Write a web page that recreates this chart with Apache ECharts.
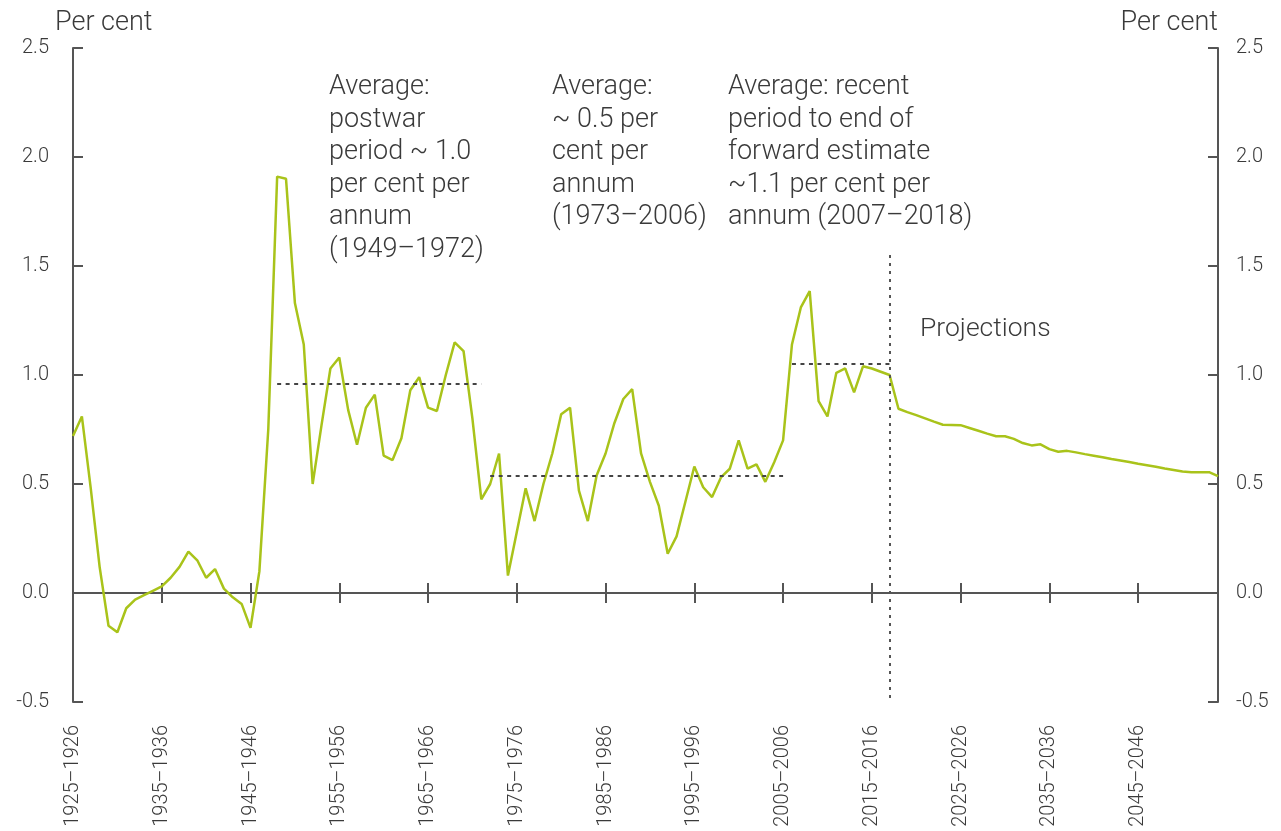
<!DOCTYPE html>
<html>
<head>
<meta charset="utf-8">
<script src="https://cdn.jsdelivr.net/npm/echarts@6/dist/echarts.min.js"></script>
<style>
  html, body { margin: 0; padding: 0; background: #fff; }
  #chart { width: 1281px; height: 831px; }
</style>
</head>
<body>
<div id="chart"></div>
<script>
// financial years 1925–1926 ... 2054–2055
const years = []
for (let y = 1925; y <= 2054; y++) years.push(y + '–' + (y + 1))

// annual growth, per cent
const growth = [
  0.72, 0.81, 0.48, 0.12, -0.15, -0.18, -0.07, -0.03, -0.01, 0.01,
  0.03, 0.07, 0.12, 0.19, 0.15, 0.07, 0.11, 0.02, -0.02, -0.05,
  -0.16, 0.10, 0.75, 1.91, 1.90, 1.33, 1.14, 0.50, 0.77, 1.03,
  1.08, 0.84, 0.68, 0.85, 0.91, 0.63, 0.61, 0.71, 0.93, 0.99,
  0.85, 0.835, 1.00, 1.15, 1.11, 0.80, 0.43, 0.50, 0.64, 0.08,
  0.28, 0.48, 0.33, 0.50, 0.64, 0.82, 0.85, 0.47, 0.33, 0.54,
  0.64, 0.78, 0.89, 0.935, 0.64, 0.51, 0.40, 0.18, 0.26, 0.42,
  0.58, 0.485, 0.44, 0.53, 0.57, 0.70, 0.57, 0.59, 0.51, 0.60,
  0.70, 1.14, 1.31, 1.385, 0.88, 0.81, 1.01, 1.03, 0.92, 1.04,
  1.03, 1.015, 1.00, 0.845, 0.83, 0.816, 0.801, 0.786, 0.772, 0.771,
  0.77, 0.757, 0.744, 0.731, 0.719, 0.719, 0.707, 0.688, 0.677, 0.682,
  0.66, 0.648, 0.652, 0.645, 0.637, 0.630, 0.623, 0.615, 0.608, 0.601,
  0.593, 0.586, 0.579, 0.571, 0.564, 0.557, 0.554, 0.554, 0.554, 0.536
]

// period averages (dashed lines)
const avgFrom = ['1948–1949', '1972–1973', '2006–2007']
const avgTo = ['1971–1972', '2005–2006', '2017–2018']
const avgValue = [0.96, 0.537, 1.053]

// projection divider
const projStart = '2017–2018'
const projTop = 1.55

const notes = [
  'Average:\npostwar\nperiod ~ 1.0\nper cent per\nannum\n(1949–1972)',
  'Average:\n~ 0.5 per\ncent per\nannum\n(1973–2006)',
  'Average: recent\nperiod to end of\nforward estimate\n~1.1 per cent per\nannum (2007–2018)',
  'Projections'
]

const FONT = 'Roboto, "Liberation Sans", sans-serif'
const AXIS = '#555'
const TEXT = '#3a3a3a'

const chart = echarts.init(document.getElementById('chart'))

const avgLines = avgValue.map((v, i) => [
  { coord: [avgFrom[i], v], lineStyle: { type: [4, 4.5], color: '#444', width: 2 } },
  { coord: [avgTo[i], v] }
])
avgLines.push([
  { coord: [projStart, projTop], lineStyle: { type: [3, 5], color: '#555', width: 2 } },
  { coord: [projStart, -0.5] }
])

const yLabel = (value) => value.toFixed(1)

const noteStyle = (text) => ({
  text: text,
  fill: TEXT,
  fontSize: 27,
  lineHeight: 32.5,
  fontFamily: FONT,
  fontWeight: 300
})

const option = {
  animation: false,
  grid: { left: 73, right: 63, top: 48, bottom: 129 },
  xAxis: [
    {
      type: 'category',
      data: years,
      boundaryGap: false,
      position: 'bottom',
      axisLine: { show: false, onZero: false },
      axisTick: { show: false },
      splitLine: { show: false },
      axisLabel: {
        interval: 9,
        rotate: 90,
        margin: 23,
        color: TEXT,
        fontSize: 20,
        fontFamily: FONT,
        fontWeight: 300
      }
    },
    {
      type: 'category',
      data: years,
      boundaryGap: false,
      position: 'bottom',
      axisLine: { show: true, onZero: true, onZeroAxisIndex: 0, lineStyle: { color: AXIS, width: 2 } },
      axisTick: { show: true, interval: 9, length: 10, lineStyle: { color: AXIS, width: 2 } },
      axisLabel: { show: false },
      splitLine: { show: false }
    },
    {
      type: 'category',
      data: years,
      boundaryGap: false,
      position: 'bottom',
      axisLine: { show: false, onZero: true, onZeroAxisIndex: 0 },
      axisTick: { show: true, inside: true, interval: 9, length: 10, lineStyle: { color: AXIS, width: 2 } },
      axisLabel: { show: false },
      splitLine: { show: false }
    }
  ],
  yAxis: [
    {
      type: 'value',
      position: 'left',
      min: -0.5,
      max: 2.5,
      interval: 0.5,
      axisLine: { show: true, lineStyle: { color: AXIS, width: 2 } },
      axisTick: { show: true, inside: true, length: 10, lineStyle: { color: AXIS, width: 2 } },
      splitLine: { show: false },
      axisLabel: { margin: 24, color: TEXT, fontSize: 20, fontFamily: FONT, fontWeight: 300, formatter: yLabel }
    },
    {
      type: 'value',
      position: 'right',
      min: -0.5,
      max: 2.5,
      interval: 0.5,
      axisLine: { show: true, lineStyle: { color: AXIS, width: 2 } },
      axisTick: { show: true, inside: true, length: 10, lineStyle: { color: AXIS, width: 2 } },
      splitLine: { show: false },
      axisLabel: { margin: 18, color: TEXT, fontSize: 20, fontFamily: FONT, fontWeight: 300, formatter: yLabel }
    }
  ],
  series: [
    {
      type: 'line',
      data: growth,
      xAxisIndex: 0,
      yAxisIndex: 0,
      symbol: 'none',
      lineStyle: { color: '#A9C31A', width: 2.5 },
      z: 3,
      markLine: {
        silent: true,
        symbol: ['none', 'none'],
        label: { show: false },
        data: avgLines
      }
    }
  ],
  graphic: [
    { type: 'text', left: 55, top: 10, style: { text: 'Per cent', fill: TEXT, fontSize: 27, fontFamily: FONT, fontWeight: 300 } },
    { type: 'text', right: 63, top: 10, style: { text: 'Per cent', fill: TEXT, fontSize: 27, fontFamily: FONT, fontWeight: 300 } },
    { type: 'text', left: 329, top: 71, style: noteStyle(notes[0]) },
    { type: 'text', left: 552, top: 71, style: noteStyle(notes[1]) },
    { type: 'text', left: 728, top: 71, style: noteStyle(notes[2]) },
    { type: 'text', left: 920, top: 313, style: Object.assign(noteStyle(notes[3]), { fontSize: 26.5 }) }
  ]
}

chart.setOption(option)
</script>
</body>
</html>
